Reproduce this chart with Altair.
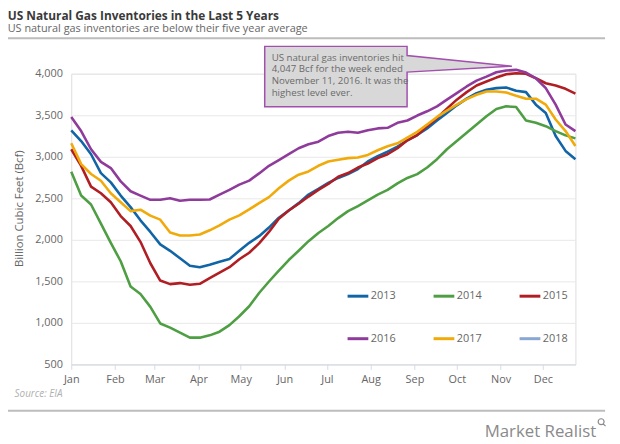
import altair as alt
import pandas as pd

# ---------------- data ----------------
years = ["2013", "2014", "2015", "2016", "2017", "2018"]
year_colors = ["#1165a6", "#4e9e43", "#b01e23", "#8f3b9b", "#f0aa0a", "#8aa6d2"]

week_start = "2017-01-01"   # weekly points, placed on a generic calendar year

s2013 = [3318, 3190, 3031, 2804, 2692, 2533, 2394, 2235, 2095, 1945, 1868, 1778, 1689,
         1670, 1701, 1737, 1769, 1868, 1964, 2044, 2148, 2267, 2354, 2442, 2545, 2613,
         2685, 2745, 2792, 2852, 2944, 3008, 3063, 3123, 3199, 3262, 3342, 3437, 3528,
         3620, 3700, 3767, 3807, 3827, 3835, 3795, 3779, 3628, 3528, 3250, 3071, 2971]
s2014 = [2820, 2533, 2426, 2195, 1964, 1742, 1439, 1348, 1193, 993, 942, 882, 822,
         822, 850, 894, 973, 1080, 1200, 1360, 1498, 1630, 1757, 1868, 1984, 2083,
         2167, 2262, 2346, 2406, 2474, 2545, 2601, 2680, 2745, 2792, 2871, 2971, 3091,
         3190, 3289, 3389, 3489, 3576, 3608, 3600, 3437, 3409, 3369, 3310, 3258, 3222]
s2015 = [3091, 2891, 2641, 2561, 2453, 2286, 2167, 1976, 1718, 1510, 1467, 1479, 1459,
         1471, 1539, 1606, 1670, 1766, 1845, 1957, 2095, 2255, 2354, 2434, 2521, 2601,
         2673, 2760, 2804, 2871, 2919, 2984, 3031, 3103, 3199, 3262, 3369, 3468, 3580,
         3688, 3779, 3859, 3906, 3954, 3994, 4006, 4000, 3946, 3886, 3859, 3819, 3760]
s2016 = [3480, 3310, 3091, 2939, 2864, 2704, 2585, 2533, 2482, 2482, 2501, 2470, 2482,
         2482, 2486, 2545, 2601, 2665, 2713, 2800, 2892, 2960, 3031, 3103, 3151, 3182,
         3250, 3289, 3301, 3289, 3321, 3342, 3349, 3409, 3437, 3497, 3548, 3608, 3688,
         3767, 3847, 3918, 3966, 4018, 4040, 4047, 4014, 3946, 3827, 3628, 3389, 3310]
s2017 = [3163, 2912, 2793, 2712, 2561, 2453, 2346, 2363, 2291, 2243, 2088, 2052, 2052,
         2064, 2115, 2175, 2243, 2295, 2366, 2442, 2514, 2621, 2713, 2785, 2824, 2892,
         2944, 2964, 2984, 2992, 3023, 3079, 3127, 3163, 3230, 3300, 3390, 3480, 3556,
         3628, 3695, 3747, 3787, 3787, 3775, 3736, 3700, 3700, 3628, 3449, 3310, 3130]
s2018 = []

y_ticks = [500, 1000, 1500, 2000, 2500, 3000, 3500, 4000]

title_text = "US Natural Gas Inventories in the Last 5 Years"
subtitle_text = "US natural gas inventories are below their five year average"
y_title = "Billion Cubic Feet (Bcf)"
note_lines = ["US natural gas inventories hit", "4,047 Bcf for the week ended",
              "November 11, 2016. It was the", "highest level ever."]
source_text = "Source: EIA"
brand_text = "Market Realist"

# ---------------- table ----------------
rows = []
for yr, vals in zip(years, [s2013, s2014, s2015, s2016, s2017, s2018]):
    for k, v in enumerate(vals):
        d = pd.Timestamp(week_start) + pd.Timedelta(days=7 * k)
        rows.append({"date": d.strftime("%Y-%m-%dT00:00:00"), "year": yr, "value": v})
df = pd.DataFrame(rows)

W, H = 510, 294
FONT = "Open Sans"

x_enc = alt.X(
    "date:T",
    title=None,
    scale=alt.Scale(domain=[alt.DateTime(year=2017, month=1, date=1),
                            alt.DateTime(year=2017, month=12, date=24)]),
    axis=alt.Axis(format="%b", tickCount={"interval": "month", "step": 1},
                  grid=False, domainColor="#d5dbe6", tickColor="#d5dbe6",
                  tickSize=5, labelPadding=4, labelFlush=False,
                  labelColor="#666666", labelFontSize=11, labelFont=FONT),
)
y_enc = alt.Y(
    "value:Q",
    scale=alt.Scale(domain=[500, 4000], nice=False, zero=False),
    axis=alt.Axis(values=y_ticks, format=",.0f", grid=True, gridColor="#e8e8e8",
                  domain=False, ticks=False, labelPadding=9,
                  labelColor="#666666", labelFontSize=11, labelFont=FONT,
                  title=y_title, titleFont=FONT, titleFontSize=11.5,
                  titleFontWeight="normal", titleColor="#666666",
                  titleX=-47, titleY=136),
)

lines = alt.Chart(df).mark_line(strokeWidth=2.6, strokeJoin="round").encode(
    x=x_enc,
    y=y_enc,
    color=alt.Color(
        "year:N",
        scale=alt.Scale(domain=years, range=year_colors),
        legend=alt.Legend(orient="none", legendX=278, legendY=213, columns=3,
                          direction="horizontal",
                          title=None, symbolType="stroke", symbolSize=441,
                          symbolStrokeWidth=3, labelFontSize=11, labelFont=FONT,
                          labelColor="#666666", labelOffset=1,
                          columnPadding=31, rowPadding=25),
    ),
)

one = alt.Data(values=[{"a": 1}])
sep_data = alt.Data(values=[{"b": 1}])

# separator lines under the subtitle and above the footer
top_rule = alt.Chart(sep_data).mark_rule(color="#bdbdbd", strokeWidth=2).encode(
    x=alt.value(-64), x2=alt.value(540), y=alt.value(-36))
bottom_rule = alt.Chart(sep_data).mark_rule(color="#bdbdbd", strokeWidth=2).encode(
    x=alt.value(-64), x2=alt.value(540), y=alt.value(341))

# callout (box with pointer toward the 2016 peak), path in pixels (size=4 -> scale 1)
callout_path = ("M195.7,-27.7 L339.7,-27.7 L339.7,-18.4 L445.7,-7.7 L339.7,-1.7 "
                "L339.7,33.3 L195.7,33.3 Z")
callout = alt.Chart(one).mark_point(
    shape=callout_path, size=4, filled=True, fill="#d8d8d8", stroke="#a24fae",
    strokeWidth=1.5, opacity=1, fillOpacity=1, strokeOpacity=1,
).encode(x=alt.value(0), y=alt.value(0))

note = alt.Chart(one).mark_text(
    text=note_lines, align="left", baseline="alphabetic", font=FONT,
    fontSize=9.8, color="#6a6a6a", lineHeight=11.8,
).encode(x=alt.value(202.7), y=alt.value(-13.2))

title = alt.Chart(one).mark_text(
    text=title_text, align="left", baseline="alphabetic", font=FONT,
    fontSize=12, fontWeight="bold", color="#3a3a3a",
).encode(x=alt.value(-64.3), y=alt.value(-54.8))

subtitle = alt.Chart(one).mark_text(
    text=subtitle_text, align="left", baseline="alphabetic", font=FONT,
    fontSize=11, color="#666666",
).encode(x=alt.value(-64.3), y=alt.value(-42))

source = alt.Chart(one).mark_text(
    text=source_text, align="left", baseline="alphabetic", font=FONT,
    fontSize=10, fontStyle="italic", color="#b0b0b0",
).encode(x=alt.value(-57.3), y=alt.value(327.3))

brand = alt.Chart(one).mark_text(
    text=brand_text, align="right", baseline="alphabetic", font=FONT,
    fontSize=17, color="#8a8a8a",
).encode(x=alt.value(531), y=alt.value(367))

lens = alt.Chart(one).mark_point(
    shape="M-1,0 A1,1 0 1,1 1,0 A1,1 0 1,1 -1,0 M0.7,0.7 L1.5,1.5",
    size=36, filled=False, stroke="#8a8a8a", strokeWidth=1.2, opacity=1,
).encode(x=alt.value(536), y=alt.value(352))

chart = alt.layer(
    lines, top_rule, bottom_rule, callout, note, title, subtitle, source, brand, lens
).properties(
    width=W, height=H,
    autosize=alt.AutoSizeParams(type="none"),
    padding={"left": 64, "top": 64, "right": 37, "bottom": 78},
)

chart.save("out.html", embed_options={"renderer": "svg", "actions": False})
